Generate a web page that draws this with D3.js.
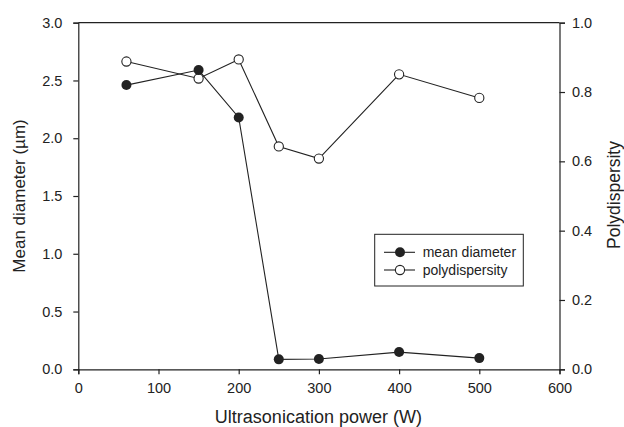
<!DOCTYPE html>
<html><head><meta charset="utf-8">
<script src="https://cdn.jsdelivr.net/npm/d3@7"></script>
<style>body{margin:0;background:#fff}svg{display:block}text{font-family:"Liberation Sans",Arial,sans-serif;fill:#222}</style>
</head><body><svg id="c" width="624" height="427"></svg>
<script>
const power = [60, 150, 200, 250, 300, 400, 500];
const meanDiameter = [2.46, 2.59, 2.18, 0.086, 0.089, 0.149, 0.097];
const polydispersity = [0.888, 0.839, 0.894, 0.643, 0.608, 0.851, 0.783];
const xTicks = [0, 100, 200, 300, 400, 500, 600];
const yLeftTicks = [0, 0.5, 1.0, 1.5, 2.0, 2.5, 3.0];
const yRightTicks = [0, 0.2, 0.4, 0.6, 0.8, 1.0];

const svg = d3.select("#c");
const L = 78.3, R = 559.5, T = 22.7, B = 369.3;
const x = d3.scaleLinear().domain([0, 600]).range([L, R]);
const yL = d3.scaleLinear().domain([0, 3]).range([B, T]);
const yR = d3.scaleLinear().domain([0, 1]).range([B, T]);
const col = "#222";
const FF = '"Liberation Sans",Arial,sans-serif';

svg.append("line").attr("x1", L).attr("x2", R).attr("y1", T).attr("y2", T).attr("stroke", col).attr("stroke-width", 1.2);

const ax = svg.append("g").attr("transform", `translate(0,${B})`)
  .call(d3.axisBottom(x).tickValues(xTicks).tickSize(5).tickPadding(8.7).tickFormat(d3.format("d")));
const al = svg.append("g").attr("transform", `translate(${L},0)`)
  .call(d3.axisLeft(yL).tickValues(yLeftTicks).tickSize(5).tickPadding(11).tickFormat(d3.format(".1f")));
const ar = svg.append("g").attr("transform", `translate(${R},0)`)
  .call(d3.axisRight(yR).tickValues(yRightTicks).tickSize(5.5).tickPadding(7).tickFormat(d3.format(".1f")));
[ax, al, ar].forEach(g => {
  g.attr("font-size", 14.5).attr("font-family", FF);
  g.select(".domain").attr("stroke", col).attr("stroke-width", 1.2);
  g.selectAll(".tick line").attr("stroke", col).attr("stroke-width", 1.2);
  g.selectAll(".tick text").attr("fill", "#222");
});

const lineD = d3.line().x((d, i) => x(power[i])).y(d => yL(d));
const lineP = d3.line().x((d, i) => x(power[i])).y(d => yR(d));
svg.append("path").attr("d", lineD(meanDiameter)).attr("fill", "none").attr("stroke", col).attr("stroke-width", 1.1);
svg.append("path").attr("d", lineP(polydispersity)).attr("fill", "none").attr("stroke", col).attr("stroke-width", 1.1);
svg.selectAll(".pd").data(polydispersity).join("circle").attr("cx", (d, i) => x(power[i])).attr("cy", d => yR(d))
  .attr("r", 4.6).attr("fill", "#fff").attr("stroke", col).attr("stroke-width", 1.1);
svg.selectAll(".md").data(meanDiameter).join("circle").attr("cx", (d, i) => x(power[i])).attr("cy", d => yL(d))
  .attr("r", 5).attr("fill", col);

svg.append("text").attr("x", (L + R) / 2 - 0.5).attr("y", 422.5).attr("text-anchor", "middle").attr("font-size", 18).text("Ultrasonication power (W)");
svg.append("text").attr("transform", `translate(24.5,${(T + B) / 2}) rotate(-90)`).attr("text-anchor", "middle").attr("font-size", 17).text("Mean diameter (µm)");
svg.append("text").attr("transform", `translate(620,${(T + B) / 2 - 1}) rotate(-90)`).attr("text-anchor", "middle").attr("font-size", 17.5).text("Polydispersity");

const lg = svg.append("g");
lg.append("rect").attr("x", 374.7).attr("y", 234.3).attr("width", 148.6).attr("height", 51.7).attr("fill", "#fff").attr("stroke", col).attr("stroke-width", 1);
const items = [{name: "mean diameter", filled: true, y: 252.3}, {name: "polydispersity", filled: false, y: 270}];
items.forEach(it => {
  lg.append("line").attr("x1", 384).attr("x2", 415).attr("y1", it.y).attr("y2", it.y).attr("stroke", col).attr("stroke-width", 1.1);
  lg.append("circle").attr("cx", 400).attr("cy", it.y).attr("r", it.filled ? 5 : 4.6)
    .attr("fill", it.filled ? col : "#fff").attr("stroke", col).attr("stroke-width", it.filled ? 0 : 1.1);
  lg.append("text").attr("x", 422.7).attr("y", it.y).attr("dy", "0.35em").attr("font-size", 14).text(it.name);
});
</script></body></html>
